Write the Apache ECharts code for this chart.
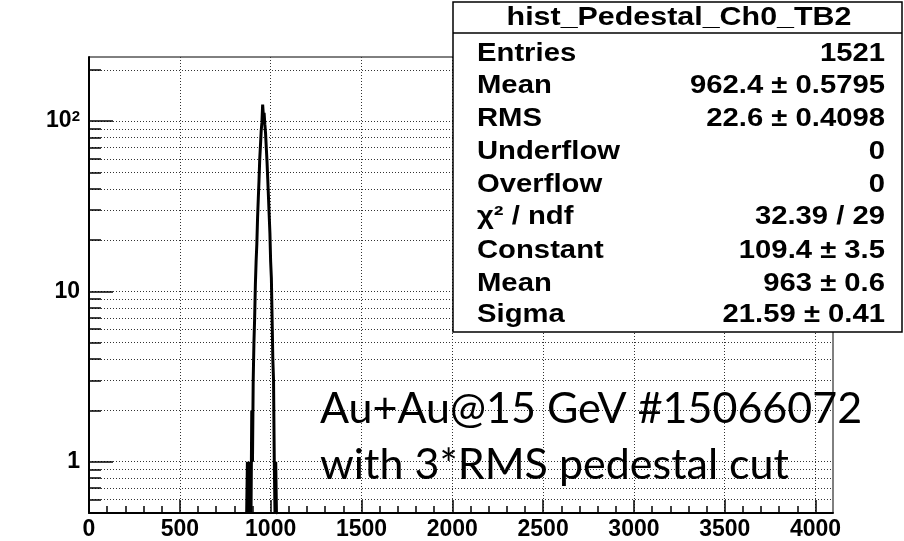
<!DOCTYPE html>
<html>
<head>
<meta charset="utf-8">
<script src="https://cdn.jsdelivr.net/npm/echarts@6/dist/echarts.min.js"></script>
<style>
  html, body { margin: 0; padding: 0; background: #fff; }
  #main { width: 904px; height: 541px; }
</style>
</head>
<body>
<div id="main"></div>
<script>
// histogram bins (ADC counts), 4 channels per bin
var binStart = 868;
var binWidth = 4;
var counts = [0, 1, 0, 1, 0, 1, 0, 2, 1, 3,
              5, 7, 11, 15, 19, 27, 35, 45, 60, 72,
              88, 98, 125, 108, 112, 96, 85, 70, 58, 46,
              36, 28, 22, 15, 12, 7, 4, 3, 1, 0,
              1, 0];

var xMajorTicks = [0, 500, 1000, 1500, 2000, 2500, 3000, 3500, 4000];
var yMajorTicks = [1, 10, 100];
var yMinorTicks = [0.6, 0.7, 0.8, 0.9, 2, 3, 4, 5, 6, 7, 8, 9,
                   20, 30, 40, 50, 60, 70, 80, 90, 200];

var statLabels = ['Entries', 'Mean', 'RMS', 'Underflow', 'Overflow',
                  'χ² / ndf', 'Constant', 'Mean', 'Sigma'];
var statValues = ['1521', '962.4 ± 0.5795', '22.6 ± 0.4098', '0', '0',
                  '32.39 / 29', '109.4 ± 3.5', '963 ± 0.6', '21.59 ± 0.41'];

var xMinorTicks = [];
for (var t = 100; t < 4096; t += 100) {
    if (t % 500 !== 0) xMinorTicks.push(t);
}

var yFloor = 0.5;
var xMax = 4096;
var yMax = 238;

// step outline, empty bins drop to the bottom of the frame like ROOT does
var histData = [];
for (var i = 0; i < counts.length; i++) {
    histData.push([binStart + i * binWidth, counts[i] > 0 ? counts[i] : yFloor]);
}
histData.push([binStart + counts.length * binWidth, yFloor]);

var dotted = { color: '#333', width: 1, type: [1, 2] };
var labFont = 'Liberation Sans, Arial, sans-serif';
var stretch = 1.17;

var myChart = echarts.init(document.getElementById('main'));

var graphics = [
    {
        type: 'rect',
        shape: { x: 453, y: 2, width: 449, height: 330 },
        style: { fill: '#fff', stroke: '#000', lineWidth: 1.5 },
        z: 100
    },
    {
        type: 'line',
        shape: { x1: 453, y1: 33, x2: 902, y2: 33 },
        style: { stroke: '#000', lineWidth: 1.5 },
        z: 101
    },
    {
        type: 'text',
        x: 679, y: 18, scaleX: stretch,
        style: {
            text: 'hist_Pedestal_Ch0_TB2', font: 'bold 26px ' + labFont,
            fill: '#000', align: 'center', verticalAlign: 'middle'
        },
        z: 101
    }
];
var rowBase = [61.7, 94.3, 126.7, 160, 193.3, 225, 259.3, 291.7, 323.3];
for (var r = 0; r < statLabels.length; r++) {
    graphics.push({
        type: 'text', x: 477, y: rowBase[r] - 8, z: 101, scaleX: stretch,
        style: { text: statLabels[r], font: 'bold 25px ' + labFont, fill: '#000',
                 align: 'left', verticalAlign: 'middle' }
    });
    graphics.push({
        type: 'text', x: 885, y: rowBase[r] - 8, z: 101, scaleX: stretch,
        style: { text: statValues[r], font: 'bold 25px ' + labFont, fill: '#000',
                 align: 'right', verticalAlign: 'middle' }
    });
}
graphics.push({
    type: 'text', x: 320, y: 409, z: 101,
    style: { text: 'Au+Au@15 GeV #15066072', font: '43px Lato, sans-serif',
             fill: '#000', align: 'left', verticalAlign: 'middle' }
});
graphics.push({
    type: 'text', x: 320, y: 465, z: 101,
    style: { text: 'with 3*RMS pedestal cut', font: '43px Lato, sans-serif',
             fill: '#000', align: 'left', verticalAlign: 'middle' }
});

option = {
    animation: false,
    backgroundColor: '#fff',
    grid: {
        left: 89,
        right: 71,
        top: 57,
        bottom: 23,
        show: true,
        borderColor: '#000',
        borderWidth: 1
    },
    xAxis: [
        {
            type: 'value',
            min: 0,
            max: xMax,
            interval: 500,
            axisLine: { show: true, onZero: false, lineStyle: { color: '#000', width: 2 } },
            axisTick: { show: true, inside: true, length: 13, customValues: xMajorTicks,
                        lineStyle: { color: '#000', width: 1.5 } },
            axisLabel: {
                customValues: xMajorTicks,
                formatter: function (v) { return String(v); },
                color: '#000', fontSize: 23, fontWeight: 'bold', fontFamily: labFont, margin: 5
            },
            splitLine: { show: true, lineStyle: dotted }
        },
        {
            type: 'value',
            min: 0,
            max: xMax,
            position: 'bottom',
            axisLine: { show: false, onZero: false },
            axisTick: { show: true, inside: true, length: 7, customValues: xMinorTicks,
                        lineStyle: { color: '#000', width: 1.5 } },
            axisLabel: { show: false },
            splitLine: { show: false }
        }
    ],
    yAxis: [
        {
            type: 'log',
            logBase: 10,
            min: yFloor,
            max: yMax,
            axisLine: { show: true, lineStyle: { color: '#000', width: 2 } },
            axisTick: { show: true, inside: true, length: 24, customValues: yMajorTicks,
                        lineStyle: { color: '#000', width: 1.5 } },
            axisLabel: {
                customValues: yMajorTicks,
                margin: 9,
                color: '#000', fontSize: 23, fontWeight: 'bold', fontFamily: labFont,
                formatter: function (v) {
                    if (v >= 99) return '10{s|2}';
                    return String(Math.round(v));
                },
                rich: {
                    s: { color: '#000', fontSize: 15, fontWeight: 'bold', fontFamily: labFont,
                         verticalAlign: 'top', padding: [0, 0, 8, 0] }
                }
            },
            splitLine: { show: true, lineStyle: dotted }
        },
        {
            type: 'log',
            logBase: 10,
            min: yFloor,
            max: yMax,
            position: 'left',
            axisLine: { show: false },
            axisTick: { show: true, inside: true, length: 12, customValues: yMinorTicks,
                        lineStyle: { color: '#000', width: 1.5 } },
            axisLabel: { show: false },
            splitLine: { show: true, lineStyle: dotted }
        }
    ],
    series: [
        {
            name: 'hist_Pedestal_Ch0_TB2',
            type: 'line',
            step: 'end',
            xAxisIndex: 0,
            yAxisIndex: 0,
            data: histData,
            showSymbol: false,
            clip: true,
            lineStyle: { color: '#000', width: 3 },
            z: 5
        }
    ],
    graphic: graphics
};

myChart.setOption(option);
</script>
</body>
</html>
